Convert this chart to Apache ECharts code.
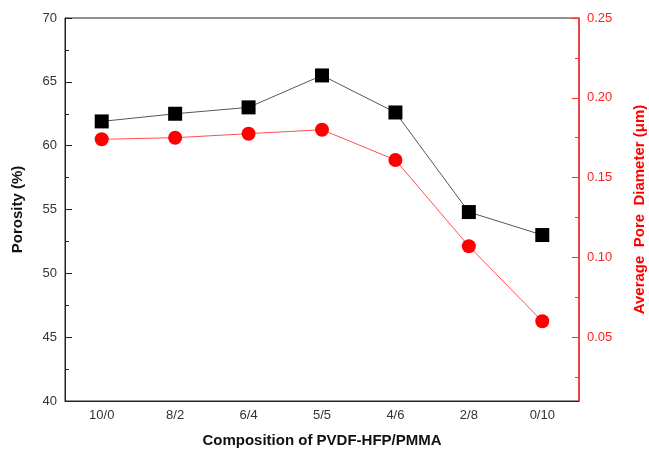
<!DOCTYPE html>
<html><head><meta charset="utf-8">
<script src="https://cdn.jsdelivr.net/npm/echarts@6/dist/echarts.min.js"></script>
<style>html,body{margin:0;padding:0;background:#fff}#c{width:649px;height:450px}</style>
</head><body><div id="c"></div>
<script>
const categories = ['10/0','8/2','6/4','5/5','4/6','2/8','0/10'];
const porosity = [61.9, 62.5, 63.0, 65.5, 62.6, 54.8, 53.0];
const poreDiameter = [0.174, 0.175, 0.1775, 0.180, 0.161, 0.107, 0.060];
const rightTicks = [0.05, 0.10, 0.15, 0.20, 0.25];
const rightMinorTicks = [0.025, 0.075, 0.125, 0.175, 0.225];

const font = 'Arial, "Liberation Sans", sans-serif';
const chart = echarts.init(document.getElementById('c'));
chart.setOption({
  animation: false,
  grid: { left: 65, right: 70, top: 18, bottom: 49, show: true, borderColor: '#222', borderWidth: 1,
    containLabel: false, outerBoundsMode: 'none' },
  xAxis: [{
    type: 'category', data: categories, boundaryGap: true,
    name: 'Composition of PVDF-HFP/PMMA', nameLocation: 'middle', nameGap: 32,
    nameTextStyle: { fontFamily: font, fontSize: 15, fontWeight: 'bold', color: '#111' },
    axisLine: { lineStyle: { color: '#222', width: 1 } },
    axisTick: { inside: true, alignWithLabel: true, length: 7, lineStyle: { color: '#222' } },
    axisLabel: { fontFamily: font, fontSize: 13, color: '#333', margin: 8 },
    splitLine: { show: false }
  }, {
    type: 'category', data: categories, boundaryGap: true, position: 'bottom',
    axisLine: { show: false },
    axisTick: { inside: true, length: 4, lineStyle: { color: '#222' } },
    axisLabel: { show: false }, splitLine: { show: false }
  }],
  yAxis: [{
    type: 'value', min: 40, max: 70, interval: 5, position: 'left',
    name: 'Porosity (%)', nameLocation: 'middle', nameGap: 40, nameRotate: 90,
    nameTextStyle: { fontFamily: font, fontSize: 15, fontWeight: 'bold', color: '#111' },
    axisLine: { show: true, lineStyle: { color: '#222', width: 1 } },
    axisTick: { show: true, inside: true, length: 7, lineStyle: { color: '#222' } },
    minorTick: { show: true, splitNumber: 2, length: 4, lineStyle: { color: '#222' } },
    axisLabel: { fontFamily: font, fontSize: 13, color: '#333', margin: 8 },
    splitLine: { show: false }, minorSplitLine: { show: false }
  }, {
    type: 'value', min: 0.01, max: 0.25, position: 'right',
    name: 'Average  Pore  Diameter (μm)', nameLocation: 'middle', nameGap: 53, nameRotate: 90,
    nameTextStyle: { fontFamily: font, fontSize: 15, fontWeight: 'bold', color: '#ff0000' },
    axisLine: { show: true, lineStyle: { color: '#ff3030', width: 1.5 } },
    axisTick: { show: true, inside: true, length: 7, customValues: rightTicks, lineStyle: { color: '#ff3030' } },
    axisLabel: { fontFamily: font, fontSize: 13, color: '#ff2020', margin: 8, customValues: rightTicks,
      formatter: v => v.toFixed(2) },
    splitLine: { show: false }
  }, {
    type: 'value', min: 0.01, max: 0.25, position: 'right',
    axisLine: { show: false },
    axisTick: { show: true, inside: true, length: 4, customValues: rightMinorTicks, lineStyle: { color: '#ff3030' } },
    axisLabel: { show: false, customValues: rightMinorTicks },
    splitLine: { show: false }
  }],
  series: [{
    type: 'line', name: 'Porosity', data: porosity, xAxisIndex: 0, yAxisIndex: 0,
    symbol: 'rect', symbolSize: 14,
    lineStyle: { color: '#555', width: 1 },
    itemStyle: { color: '#000' }, z: 3
  }, {
    type: 'line', name: 'Pore', data: poreDiameter, xAxisIndex: 0, yAxisIndex: 1,
    symbol: 'circle', symbolSize: 14,
    lineStyle: { color: '#ff5050', width: 1 },
    itemStyle: { color: '#ff0000' }, z: 2
  }]
});
</script></body></html>
